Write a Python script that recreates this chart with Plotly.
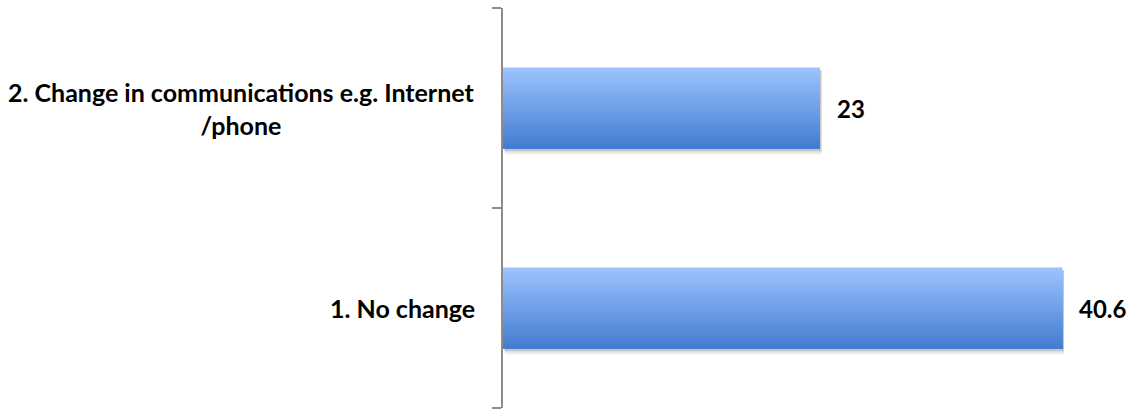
import plotly.graph_objects as go
import numpy as np

categories = ["1. No change", "2. Change in communications e.g. Internet<br>/phone"]
values = [40.6, 23]
value_labels = ["40.6", "23"]

BAR_W = 0.405
N = 40
top_rgb = np.array([158, 196, 255])
bot_rgb = np.array([66, 124, 208])

fig = go.Figure()

# soft shadow
for i, (op, sh, ex) in enumerate([(0.06, 0.030, 0.012), (0.08, 0.020, 0.006), (0.10, 0.012, 0.0)]):
    fig.add_trace(go.Bar(
        y=categories, x=values, base=[0.12, 0.12], orientation="h",
        width=BAR_W + ex, offset=-BAR_W / 2 - sh,
        marker=dict(color=f"rgba(0,0,0,{op})", line=dict(width=0)),
        hoverinfo="skip", showlegend=False))

# gradient bars: stacked overlay slices anchored at bar bottom
for k in range(N):
    frac_top = (N - k) / N
    t = (N - k - 0.5) / N  # position from bottom (0) to top (1)
    c = bot_rgb + (top_rgb - bot_rgb) * t
    fig.add_trace(go.Bar(
        y=categories, x=values, orientation="h",
        width=BAR_W * frac_top, offset=-BAR_W / 2,
        marker=dict(color=f"rgb({int(c[0])},{int(c[1])},{int(c[2])})", line=dict(width=0)),
        hoverinfo="skip", showlegend=False))

annotations = []
for cat, v, lab in zip(categories, values, value_labels):
    annotations.append(dict(x=v, y=cat, xref="x", yref="y", text=f"<b>{lab}</b>",
                            showarrow=False, xanchor="left", xshift=15,
                            font=dict(family="Lato", size=24, color="#000")))
    annotations.append(dict(x=0, y=cat, xref="paper", yref="y", text=f"<b>{cat}</b>",
                            showarrow=False, xanchor="right", xshift=-26, align="center",
                            font=dict(family="Lato", size=25, color="#000")))

fig.update_layout(
    barmode="overlay",
    width=1133, height=410,
    margin=dict(l=503, r=10, t=8, b=2),
    plot_bgcolor="white", paper_bgcolor="white",
    annotations=annotations,
    xaxis=dict(range=[0, 45.0], visible=False, showgrid=False, zeroline=False),
    yaxis=dict(type="category", categoryorder="array", categoryarray=categories,
               range=[-0.5, 1.5], showticklabels=False, tickson="boundaries",
               ticks="outside", ticklen=9, tickwidth=2, tickcolor="#8c8c8c",
               showline=True, linecolor="#8c8c8c", linewidth=2, showgrid=False,
               zeroline=False),
)

fig.write_html("out.html")
